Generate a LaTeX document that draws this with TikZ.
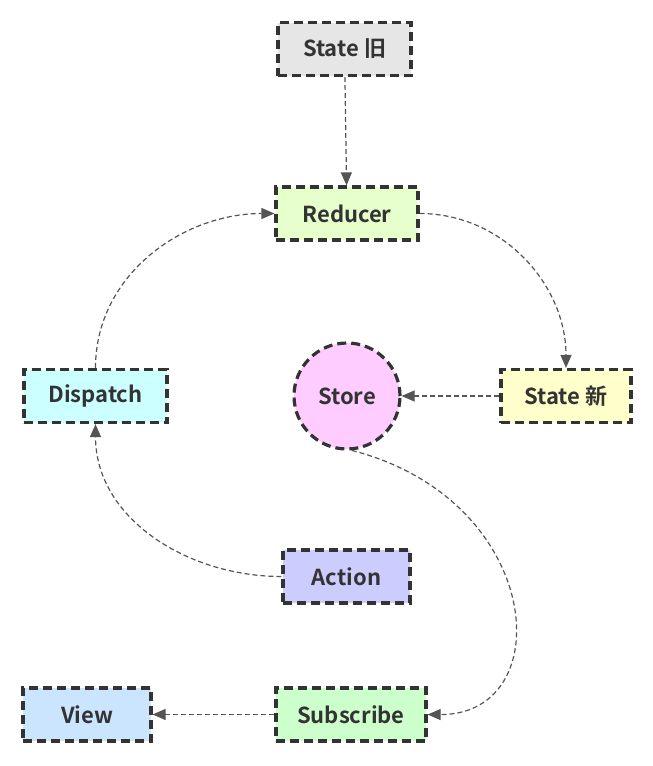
\documentclass[tikz,border=0pt]{standalone}
\usepackage{fontspec}
\setmainfont{Noto Sans CJK SC}[BoldFont={Noto Sans CJK SC Bold}]
\usepackage{tikz}
\usetikzlibrary{arrows.meta}
\definecolor{edge}{HTML}{555555}
\definecolor{ink}{HTML}{333333}
\tikzset{
  box/.style={draw=ink, line width=3.2pt, dash pattern=on 9pt off 5pt, rectangle,
    minimum height=53pt, text=ink, font=\fontsize{22}{26}\selectfont\bfseries},
  flow/.style={draw=edge, line width=1.2pt, dash pattern=on 5pt off 3pt,
    -{Triangle[length=13pt,width=11pt]}}
}
\begin{document}
\begin{tikzpicture}[x=1pt,y=-1pt]
\useasboundingbox (0,0) rectangle (653,766);
\node[box, fill={rgb,255:red,230;green,230;blue,230}, minimum width=133pt] (old) at (344.5,49) {State 旧};
\node[box, fill={rgb,255:red,230;green,255;blue,204}, minimum width=142pt] (reducer) at (347,213.5) {Reducer};
\node[box, fill={rgb,255:red,204;green,255;blue,255}, minimum width=143pt] (dispatch) at (95.5,396) {Dispatch};
\node[box, circle, fill={rgb,255:red,255;green,204;blue,255}, minimum size=106pt, inner sep=0pt] (store) at (347,396) {Store};
\node[box, fill={rgb,255:red,255;green,255;blue,204}, minimum width=130pt] (new) at (566,396) {State 新};
\node[box, fill={rgb,255:red,204;green,204;blue,255}, minimum width=127pt] (action) at (346.5,576.5) {Action};
\node[box, fill={rgb,255:red,204;green,229;blue,255}, minimum width=128pt] (view) at (87,714.5) {View};
\node[box, fill={rgb,255:red,204;green,255;blue,204}, minimum width=150pt] (subscribe) at (351,714.5) {Subscribe};
% connectors
\draw[flow] (old) -- (reducer);
\draw[flow] (dispatch.north) to[out=90, in=180] (reducer.west);
\draw[flow] (reducer.east) to[out=0, in=90] (new.north);
\draw[flow] (new) -- (store);
\draw[flow] (action.west) to[out=180, in=-90] (dispatch.south);
\draw[flow] (store.-85) .. controls (545,500) and (560,715) .. (subscribe.east);
\draw[flow] (subscribe) -- (view);
\end{tikzpicture}
\end{document}
